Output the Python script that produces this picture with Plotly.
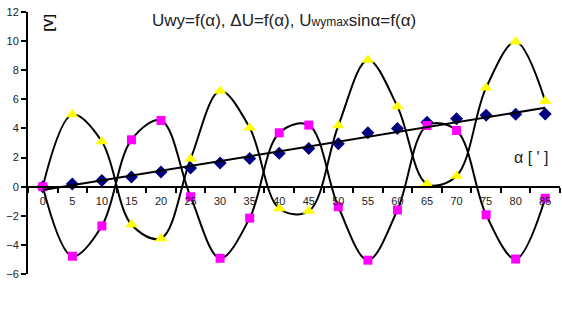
import numpy as np
import plotly.graph_objects as go

# ---- data ----
alpha = [0, 5, 10, 15, 20, 25, 30, 35, 40, 45, 50, 55, 60, 65, 70, 75, 80, 85]
x_labels = [str(a) for a in alpha]

# blue diamonds (linear series)
delta_u = [0.0, 0.19, 0.43, 0.67, 1.0, 1.29, 1.63, 1.93, 2.3, 2.62, 2.94, 3.7, 4.0, 4.43, 4.66, 4.9, 4.97, 5.0]
# yellow triangles
u_wy = [0.0, 4.95, 3.1, -2.6, -3.56, 1.9, 6.57, 4.05, -1.5, -1.68, 4.2, 8.7, 5.5, 0.18, 0.74, 6.8, 9.95, 5.88]
# magenta squares
u_sin = [0.0, -4.78, -2.7, 3.22, 4.55, -0.69, -4.92, -2.16, 3.7, 4.23, -1.38, -5.05, -1.6, 4.2, 3.86, -1.93, -4.97, -0.8]

y_ticks = [-6, -4, -2, 0, 2, 4, 6, 8, 10, 12]

FONT = "Liberation Sans, Arial, sans-serif"

# linear trend line of the blue series (fitted over category index)
idx = np.arange(len(alpha))
k, b = np.polyfit(idx, delta_u, 1)
trend_y = [b, k * idx[-1] + b]

fig = go.Figure()

fig.add_trace(go.Scatter(
    x=x_labels, y=u_wy, mode="lines+markers",
    line=dict(color="black", width=2, shape="spline", smoothing=1),
    marker=dict(symbol="triangle-up", size=11, color="#FFFF00", line=dict(width=0)),
    showlegend=False))

fig.add_trace(go.Scatter(
    x=x_labels, y=delta_u, mode="markers",
    marker=dict(symbol="diamond", size=10, color="#000080", line=dict(width=0)),
    showlegend=False))

fig.add_trace(go.Scatter(
    x=x_labels, y=u_sin, mode="lines+markers",
    line=dict(color="black", width=2, shape="spline", smoothing=1),
    marker=dict(symbol="square", size=9, color="#FF00FF", line=dict(width=0)),
    showlegend=False))

fig.add_trace(go.Scatter(
    x=[x_labels[0], x_labels[-1]], y=trend_y, mode="lines",
    line=dict(color="black", width=2), hoverinfo="skip", showlegend=False))

fig.update_layout(
    width=562, height=333,
    margin=dict(l=28, r=2, t=12, b=59),
    paper_bgcolor="white", plot_bgcolor="white",
    font=dict(family=FONT, color="black", size=11),
    showlegend=False,
    xaxis=dict(
        type="category", categoryorder="array", categoryarray=x_labels,
        range=[-0.5, 17.5],
        anchor="free", position=1/3,
        showline=True, linecolor="black", linewidth=2,
        ticks="outside", tickson="boundaries", ticklen=5, tickwidth=1.5, tickcolor="black",
        ticklabelstandoff=4,
        showgrid=False, zeroline=False,
        tickfont=dict(family=FONT, size=11, color="#222"),
    ),
    yaxis=dict(
        range=[-6, 12], tickvals=y_ticks,
        showline=True, linecolor="black", linewidth=2,
        ticks="outside", ticklen=5, tickwidth=1.5, tickcolor="black",
        showgrid=False, zeroline=False,
        tickfont=dict(family=FONT, size=11, color="#222"),
    ),
    annotations=[
        dict(text="Uwy=f(α), ΔU=f(α), U<span style='font-size:12px'>wymax</span>sinα=f(α)",
             xref="paper", yref="paper", x=0.481, y=0.969,
             xanchor="center", yanchor="middle", showarrow=False,
             font=dict(family=FONT, size=17, color="#222")),
        dict(text="<b>[V]</b>", textangle=-90,
             xref="paper", yref="paper", x=0.0367, y=0.958,
             xanchor="center", yanchor="middle", showarrow=False,
             font=dict(family=FONT, size=13, color="#111")),
        dict(text="α [ ' ]",
             xref="paper", yref="paper", x=0.9455, y=0.443,
             xanchor="center", yanchor="middle", showarrow=False,
             font=dict(family=FONT, size=16, color="#222")),
    ],
)

fig.write_html("out.html")
